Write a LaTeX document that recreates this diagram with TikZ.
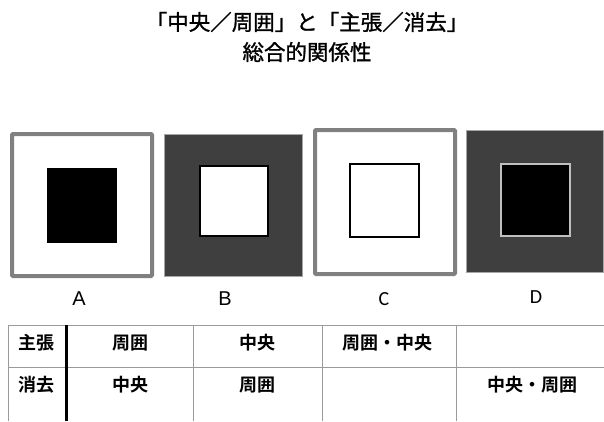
\documentclass[tikz,border=0pt]{standalone}
\usepackage{fontspec}
\setmainfont{Liberation Sans}
\newfontfamily\jpreg[FakeBold=1.2]{Noto Sans CJK JP}
\newfontfamily\jpbold{Noto Sans CJK JP Bold}
\newfontfamily\carfont{Carlito}
\definecolor{frame}{HTML}{808080}
\definecolor{dark}{HTML}{3F3F3F}
\definecolor{tline}{HTML}{9A9A9A}
\tikzset{
  title/.style={font=\jpreg\fontsize{21.5}{24}\selectfont, inner sep=0pt},
  lab/.style={font=\fontsize{20}{22}\selectfont, inner sep=0pt},
  cell/.style={font=\jpbold\fontsize{18}{20}\selectfont, inner sep=0pt},
  grayframe/.style={draw=frame, line width=4pt, fill=white, rounded corners=1pt},
  darkframe/.style={draw=black!35, line width=1pt, fill=dark},
  tl/.style={draw=tline, line width=0.8pt}
}
\begin{document}
\begin{tikzpicture}[x=1pt,y=-1pt]
\useasboundingbox (0,0) rectangle (604,421);
\fill[white] (0,0) rectangle (604,421);
% title
\node[title] (t1) at (307,22) {「中央／周囲」と「主張／消去」};
\node[title] (t2) at (307,52) {総合的関係性};
% A
\draw[grayframe] (12,134) rectangle (152,276);
\fill[black] (47,168) rectangle (117,243);
% B
\draw[darkframe] (164,134) rectangle (302,276);
\draw[fill=white, draw=black, line width=1.8pt] (200,166) rectangle (268,236);
% C
\draw[grayframe] (315,130) rectangle (455,274);
\draw[fill=white, draw=black, line width=1.4pt] (350,164) rectangle (419,237);
% D
\draw[darkframe] (466,130) rectangle (603,272);
\draw[fill=black, draw=black!25, line width=1.4pt] (501,164) rectangle (570,236);
% labels
\node[lab] (la) at (79,299) {A};
\node[lab] (lb) at (225,299) {B};
\node[lab, font=\carfont\fontsize{20}{22}\selectfont] (lc) at (384,299) {C};
\node[lab, font=\carfont\fontsize{20}{22}\selectfont] (ld) at (536,297) {D};
% table
\draw[tl] (8,325) -- (604,325);
\draw[tl] (8,367) -- (604,367);
\draw[tl] (8,325) -- (8,421);
\draw[tl] (193,325) -- (193,421);
\draw[tl] (322,325) -- (322,421);
\draw[tl] (456,325) -- (456,421);
\draw[black, line width=3pt] (66,325) -- (66,421);
\node[cell] (h1) at (36,343) {主張};
\node[cell] (h2) at (36,385) {消去};
\node[cell] (a1) at (130,343) {周囲};
\node[cell] (b1) at (257,343) {中央};
\node[cell] (c1) at (387,343) {周囲・中央};
\node[cell] (a2) at (130,385) {中央};
\node[cell] (b2) at (257,385) {周囲};
\node[cell] (d2) at (532,385) {中央・周囲};
\end{tikzpicture}
\end{document}
